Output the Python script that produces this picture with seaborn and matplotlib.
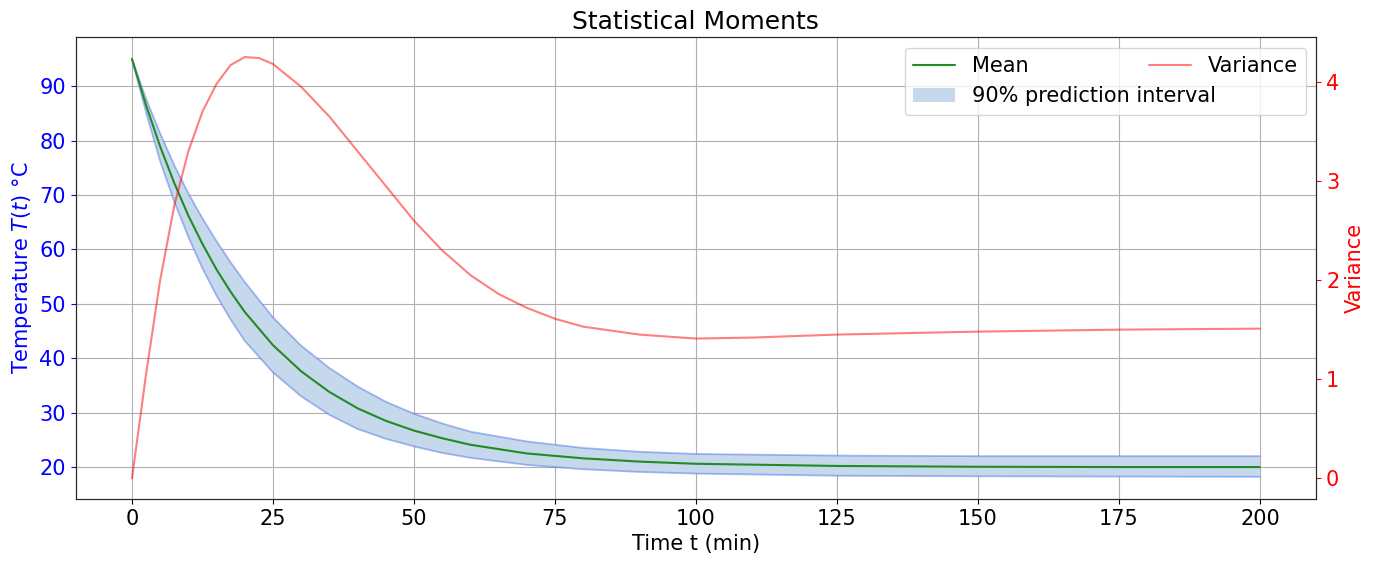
import numpy as np
import matplotlib
matplotlib.use("Agg")
import matplotlib.pyplot as plt
import seaborn as sns

# Values
# ---------------------------------------------------------------------------
t_mean = [0, 2.5, 5, 7.5, 10, 12.5, 15, 17.5, 20, 25, 30, 35, 40, 45, 50, 55, 60, 70, 80, 90, 100, 125, 150, 175, 200]
mean = [95, 86.5, 78.9, 72.2, 66.2, 61.0, 56.3, 52.2, 48.5, 42.4, 37.6, 33.8, 30.8, 28.5, 26.7, 25.3, 24.1, 22.5, 21.6, 21.0, 20.6, 20.2, 20.05, 20.0, 20.0]
upper = [95, 87.7, 81.3, 75.5, 70.3, 65.7, 61.5, 57.6, 54.0, 47.5, 42.3, 38.2, 34.8, 32.0, 29.8, 28.0, 26.5, 24.7, 23.5, 22.8, 22.4, 22.1, 22.0, 22.0, 22.0]
lower = [95, 85.2, 76.2, 68.8, 62.3, 56.5, 51.5, 47.1, 43.2, 37.4, 33.0, 29.6, 27.0, 25.2, 23.8, 22.6, 21.7, 20.4, 19.6, 19.1, 18.8, 18.4, 18.3, 18.25, 18.2]

t_var = [0, 2.5, 5, 7.5, 10, 12.5, 15, 17.5, 20, 22.5, 25, 30, 35, 40, 45, 50, 55, 60, 65, 70, 75, 80, 90, 100, 110, 125, 150, 175, 200]
variance = [0, 1.05, 2.0, 2.75, 3.3, 3.7, 3.98, 4.17, 4.25, 4.24, 4.18, 3.95, 3.65, 3.3, 2.95, 2.6, 2.3, 2.05, 1.86, 1.72, 1.61, 1.53, 1.45, 1.41, 1.42, 1.45, 1.48, 1.5, 1.51]

# Plot
# ---------------------------------------------------------------------------
sns.set_style("ticks")
plt.rcParams.update({"font.size": 15, "text.color": "black", "axes.labelcolor": "black",
                     "xtick.color": "black", "ytick.color": "black"})

fig = plt.figure(figsize=(13.74, 5.64), dpi=100)
ax = fig.add_axes([0.055, 0.115, 0.903, 0.819])
ax2 = ax.twinx()

ax.fill_between(t_mean, lower, upper, facecolor="#c5d8ec", edgecolor="none",
                label="90% prediction interval")
sns.lineplot(x=t_mean, y=upper, ax=ax, color="royalblue", alpha=0.45, lw=1.3)
sns.lineplot(x=t_mean, y=lower, ax=ax, color="royalblue", alpha=0.45, lw=1.3)
sns.lineplot(x=t_mean, y=mean, ax=ax, color="forestgreen", lw=1.5, label="Mean")
sns.lineplot(x=t_var, y=variance, ax=ax2, color="red", alpha=0.5, lw=1.5, label="Variance")

ax.set_xlim(-10, 210)
ax.set_ylim(14.1, 99.0)
ax2.set_ylim(-0.21, 4.45)
ax.set_yticks(range(20, 91, 10))
ax2.set_yticks(range(0, 5))
ax.grid(True, color="#b0b0b0")
ax.set_xlabel("Time t (min)")
ax.set_ylabel("Temperature $T(t)$ °C", color="blue")
ax2.set_ylabel("Variance", color="red")
ax.tick_params(axis="y", colors="blue")
ax2.tick_params(axis="y", colors="red")
ax.set_title("Statistical Moments", fontsize=18)

h1, l1 = ax.get_legend_handles_labels()
h2, l2 = ax2.get_legend_handles_labels()
if ax2.get_legend():
    ax2.get_legend().remove()
if ax.get_legend():
    ax.get_legend().remove()
ax2.legend([h1[l1.index("Mean")], h1[l1.index("90% prediction interval")], h2[0]],
           ["Mean", "90% prediction interval", "Variance"],
           loc="upper right", ncol=2, fontsize=15, columnspacing=-3.2,
           handlelength=2.0, handletextpad=0.8)

plt.savefig("out.png")
